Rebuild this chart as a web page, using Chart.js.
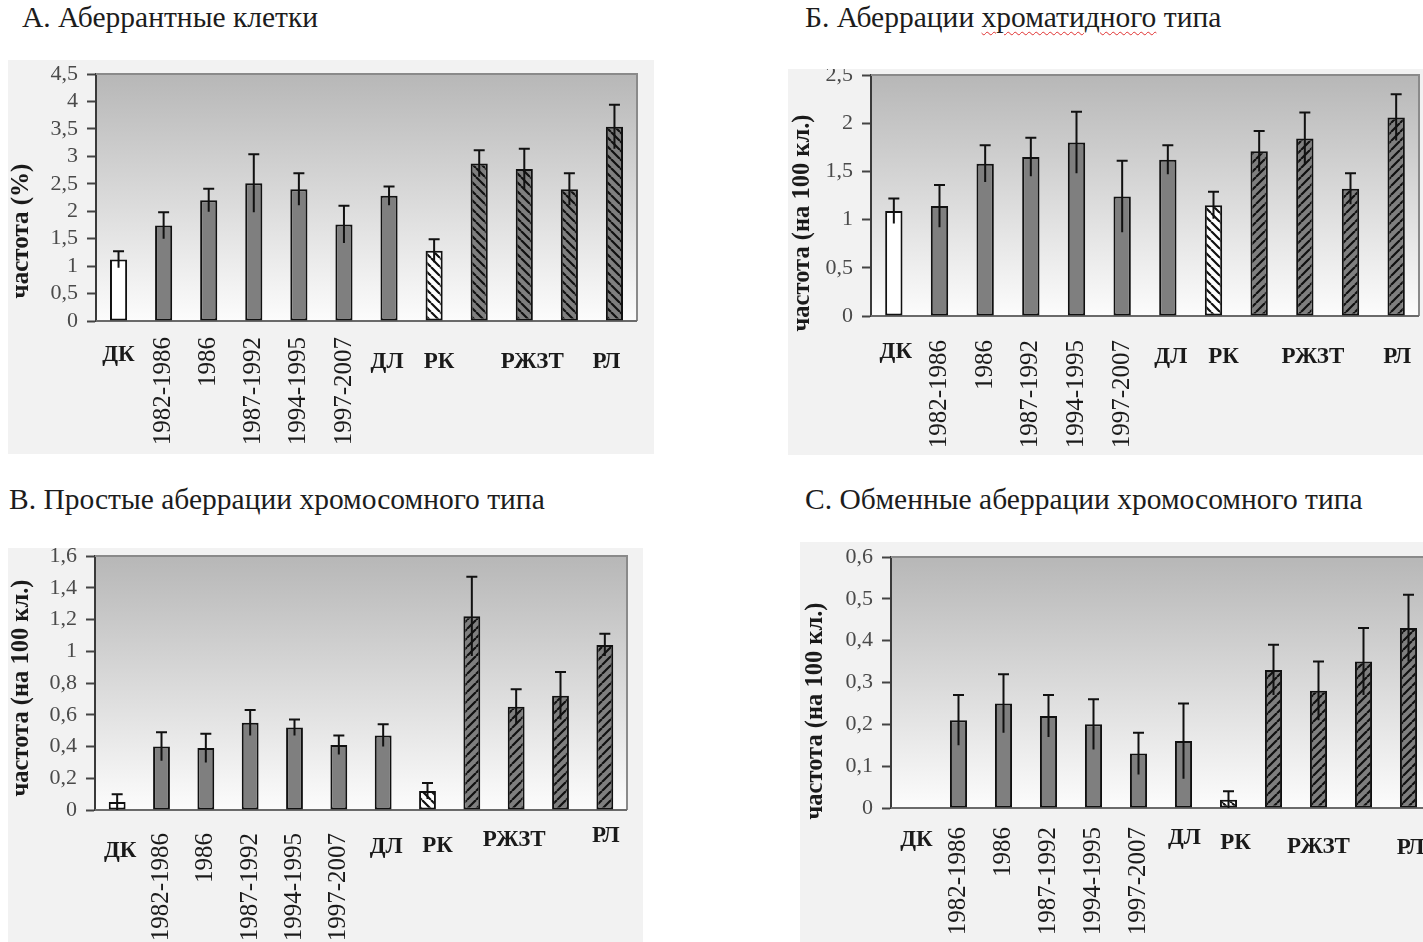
<!DOCTYPE html>
<html lang="ru">
<head>
<meta charset="utf-8">
<title>Частота хромосомных аберраций</title>
<script src="https://cdn.jsdelivr.net/npm/chart.js@4/dist/chart.umd.min.js"></script>
<style>
  html, body { margin: 0; padding: 0; background: #ffffff; }
  body { position: relative; width: 1423px; height: 942px; overflow: hidden; }
  .ttl { position: absolute; font-family: "Liberation Serif", "Times New Roman", serif; font-size: 29.5px; color: #1c1c1c; white-space: nowrap; line-height: 1; }
  .typo { text-decoration: underline wavy #e03030; text-decoration-thickness: 1px; text-underline-offset: 4px; }
  canvas { position: absolute; }
</style>
</head>
<body>
<div class="ttl" style="left:22px;top:3px">А. Аберрантные клетки</div>
<div class="ttl" style="left:805px;top:3px">Б. Аберрации <span class="typo">хроматидного</span> типа</div>
<div class="ttl" style="left:9px;top:485px">В. Простые аберрации хромосомного типа</div>
<div class="ttl" style="left:805px;top:485px">С. Обменные аберрации хромосомного типа</div>

<canvas id="cells"></canvas>
<canvas id="chromatid"></canvas>
<canvas id="simple"></canvas>
<canvas id="exchange"></canvas>

<script>
// Groups along the x axis (the three bars before РЛ share one label, РЖЗТ)
const categories = ['ДК', '1982-1986', '1986', '1987-1992', '1994-1995', '1997-2007', 'ДЛ', 'РК', '', 'РЖЗТ', '', 'РЛ'];

// А. Аберрантные клетки, %
const cellsValues = [1.12, 1.74, 2.20, 2.51, 2.40, 1.76, 2.28, 1.28, 2.87, 2.77, 2.40, 3.54];
const cellsErrors = [0.15, 0.24, 0.21, 0.53, 0.29, 0.34, 0.17, 0.21, 0.24, 0.37, 0.29, 0.40];
const cellsTicks = ['0', '0,5', '1', '1,5', '2', '2,5', '3', '3,5', '4', '4,5'];

// Б. Аберрации хроматидного типа, на 100 кл.
const chromatidValues = [1.09, 1.14, 1.58, 1.65, 1.80, 1.24, 1.62, 1.15, 1.71, 1.84, 1.32, 2.06];
const chromatidErrors = [0.13, 0.22, 0.19, 0.20, 0.32, 0.37, 0.15, 0.14, 0.21, 0.27, 0.16, 0.24];
const chromatidTicks = ['0', '0,5', '1', '1,5', '2', '2,5'];

// В. Простые аберрации хромосомного типа, на 100 кл.
const simpleValues = [0.05, 0.40, 0.39, 0.55, 0.52, 0.41, 0.47, 0.12, 1.22, 0.65, 0.72, 1.04];
const simpleErrors = [0.05, 0.09, 0.09, 0.08, 0.05, 0.06, 0.07, 0.05, 0.25, 0.11, 0.15, 0.07];
const simpleTicks = ['0', '0,2', '0,4', '0,6', '0,8', '1', '1,2', '1,4', '1,6'];

// С. Обменные аберрации хромосомного типа, на 100 кл.
const exchangeValues = [0, 0.21, 0.25, 0.22, 0.20, 0.13, 0.16, 0.02, 0.33, 0.28, 0.35, 0.43];
const exchangeErrors = [0, 0.06, 0.07, 0.05, 0.06, 0.05, 0.09, 0.02, 0.06, 0.07, 0.08, 0.08];
const exchangeTicks = ['0', '0,1', '0,2', '0,3', '0,4', '0,5', '0,6'];

// Kind of fill for every bar: open control, solid, light hatched, dark hatched
const barKinds = ['open', 'solid', 'solid', 'solid', 'solid', 'solid', 'solid', 'light', 'dark', 'dark', 'dark', 'dark'];

const SERIF = '"Liberation Serif", "Times New Roman", serif';
const GREY = '#7f7f7f';

function hatch(back, dir) {
  const s = 9;
  const c = document.createElement('canvas');
  c.width = s; c.height = s;
  const g = c.getContext('2d');
  g.fillStyle = back;
  g.fillRect(0, 0, s, s);
  g.strokeStyle = '#111';
  g.lineWidth = 2.2;
  g.beginPath();
  for (let k = -1; k <= 1; k++) {
    if (dir === '\\') { g.moveTo(k * s, 0); g.lineTo(k * s + s, s); }
    else { g.moveTo(k * s, s); g.lineTo(k * s + s, 0); }
  }
  g.stroke();
  return g.createPattern(c, 'repeat');
}

function fills(darkDir) {
  const light = hatch('#ffffff', '\\');
  const dark = hatch(GREY, darkDir);
  return barKinds.map(k => k === 'open' ? '#ffffff' : k === 'solid' ? GREY : k === 'light' ? light : dark);
}

// Background, frame, error bars and the hand-placed axis labels
const panelDecor = {
  id: 'panelDecor',
  beforeDraw(chart) {
    const { ctx, chartArea: a } = chart;
    ctx.save();
    ctx.fillStyle = '#f2f2f2';
    ctx.fillRect(0, 0, chart.width, chart.height);
    const gr = ctx.createLinearGradient(0, a.top, 0, a.bottom);
    gr.addColorStop(0, '#b7b7b7');
    gr.addColorStop(1, '#fcfcfc');
    ctx.fillStyle = gr;
    ctx.fillRect(a.left, a.top, a.right - a.left, a.bottom - a.top);
    ctx.restore();
  },
  beforeDatasetsDraw(chart) {
    const { ctx, chartArea: a } = chart;
    ctx.save();
    ctx.strokeStyle = '#8a8a8a';
    ctx.lineWidth = 2;
    ctx.beginPath();
    ctx.moveTo(a.left, a.top); ctx.lineTo(a.right, a.top); ctx.lineTo(a.right, a.bottom);
    ctx.stroke();
    ctx.strokeStyle = '#6a6a6a';
    ctx.beginPath();
    ctx.moveTo(a.left, a.bottom); ctx.lineTo(a.right, a.bottom);
    ctx.stroke();
    ctx.restore();
  },
  afterDatasetsDraw(chart, args, o) {
    const { ctx } = chart;
    const y = chart.scales.y;
    const meta = chart.getDatasetMeta(0);
    const vals = chart.data.datasets[0].data;
    ctx.save();
    ctx.strokeStyle = '#111';
    ctx.lineWidth = 2;
    meta.data.forEach((bar, i) => {
      const e = o.errors[i];
      if (!e) return;
      const top = y.getPixelForValue(vals[i] + e);
      const bot = y.getPixelForValue(Math.max(0, vals[i] - e));
      ctx.beginPath();
      ctx.moveTo(bar.x, bot); ctx.lineTo(bar.x, top);
      ctx.moveTo(bar.x - 5.5, top); ctx.lineTo(bar.x + 5.5, top);
      ctx.stroke();
    });
    ctx.restore();
  },
  afterDraw(chart, args, o) {
    const { ctx, chartArea: a } = chart;
    const x = chart.scales.x;
    ctx.save();
    ctx.fillStyle = '#1a1a1a';
    let h = 0;
    chart.data.labels.forEach((lab, i) => {
      if (!lab) return;
      const cx = x.getPixelForValue(i);
      if (/^\d/.test(lab)) {
        ctx.save();
        ctx.font = '25px ' + SERIF;
        ctx.translate(cx, a.bottom + o.yearGap);
        ctx.rotate(-Math.PI / 2);
        ctx.textAlign = 'right';
        ctx.textBaseline = 'middle';
        ctx.fillText(lab, 0, 0);
        ctx.restore();
      } else {
        const [dx, dy] = o.nudge[h++];
        ctx.font = 'bold 23px ' + SERIF;
        ctx.textAlign = 'center';
        ctx.textBaseline = 'middle';
        ctx.fillText(lab, cx + dx, a.bottom + dy);
      }
    });
    // axis title
    ctx.save();
    ctx.font = 'bold ' + o.titleSize + 'px ' + SERIF;
    ctx.translate(o.titleAt[0], o.titleAt[1]);
    ctx.rotate(-Math.PI / 2);
    ctx.textAlign = 'center';
    ctx.textBaseline = 'middle';
    ctx.fillText(o.title, 0, 0);
    ctx.restore();
    ctx.restore();
  }
};

function panel(id, values, errors, ticks, max, step, darkDir, box, plot, st) {
  const cv = document.getElementById(id);
  const [bx, by, bw, bh] = box;
  const [pl, pt, pr, pb] = plot;
  cv.style.left = bx + 'px';
  cv.style.top = by + 'px';
  cv.width = bw; cv.height = bh;
  return new Chart(cv, {
    type: 'bar',
    data: {
      labels: categories,
      datasets: [{
        data: values,
        backgroundColor: fills(darkDir),
        borderColor: '#111',
        borderWidth: 2,
        borderSkipped: false,
        barPercentage: 0.38,
        categoryPercentage: 1
      }]
    },
    options: {
      responsive: false,
      devicePixelRatio: 1,
      animation: false,
      events: [],
      layout: { padding: { left: 0, top: pt - by, right: bx + bw - pr, bottom: 0 } },
      plugins: {
        legend: { display: false },
        tooltip: { enabled: false },
        panelDecor: {
          errors: errors,
          title: st.title,
          titleSize: st.titleSize,
          titleAt: [st.titleAt[0] - bx, st.titleAt[1] - by],
          yearGap: st.yearGap,
          nudge: st.nudge
        }
      },
      scales: {
        x: {
          ticks: { display: false },
          grid: { display: false },
          border: { display: false },
          afterFit(s) { s.height = by + bh - pb; s.paddingLeft = 0; s.paddingRight = 0; }
        },
        y: {
          min: 0, max: max,
          ticks: {
            stepSize: step,
            autoSkip: false,
            padding: 9,
            color: '#4a4a4a',
            font: { family: SERIF, size: 22 },
            callback: (v, i) => ticks[i]
          },
          grid: { drawOnChartArea: false, drawTicks: true, tickLength: 9, tickWidth: 2, color: '#444' },
          border: { display: true, color: '#3a3a3a', width: 2 },
          afterFit(s) { s.width = pl - bx; s.paddingTop = 0; s.paddingBottom = 0; }
        }
      }
    },
    plugins: [panelDecor]
  });
}

panel('cells', cellsValues, cellsErrors, cellsTicks, 4.5, 0.5, '\\',
  [8, 60, 646, 394], [96, 74, 637, 321],
  { title: 'частота (%)', titleSize: 25, titleAt: [22, 231], yearGap: 16,
    nudge: [[0, 34], [-2, 41], [5, 41], [8, 41], [-8, 41]] });

panel('chromatid', chromatidValues, chromatidErrors, chromatidTicks, 2.5, 0.5, '/',
  [788, 69, 640, 386], [871, 75, 1419, 316],
  { title: 'частота (на 100 кл.)', titleSize: 24.5, titleAt: [803, 223], yearGap: 24,
    nudge: [[2, 36], [3, 41], [10, 41], [8, 41], [1, 41]] });

panel('simple', simpleValues, simpleErrors, simpleTicks, 1.6, 0.2, '/',
  [8, 548, 635, 400], [95, 556, 627, 810],
  { title: 'частота (на 100 кл.)', titleSize: 24.5, titleAt: [22, 688], yearGap: 23,
    nudge: [[3, 41], [3, 37], [10, 36], [-2, 30], [1, 26]] });

panel('exchange', exchangeValues, exchangeErrors, exchangeTicks, 0.6, 0.1, '/',
  [800, 542, 640, 400], [891, 557, 1431, 808],
  { title: 'частота (на 100 кл.)', titleSize: 24.5, titleAt: [816, 711], yearGap: 19,
    nudge: [[3, 32], [1, 30], [7, 35], [0, 39], [2, 40]] });
</script>
</body>
</html>
